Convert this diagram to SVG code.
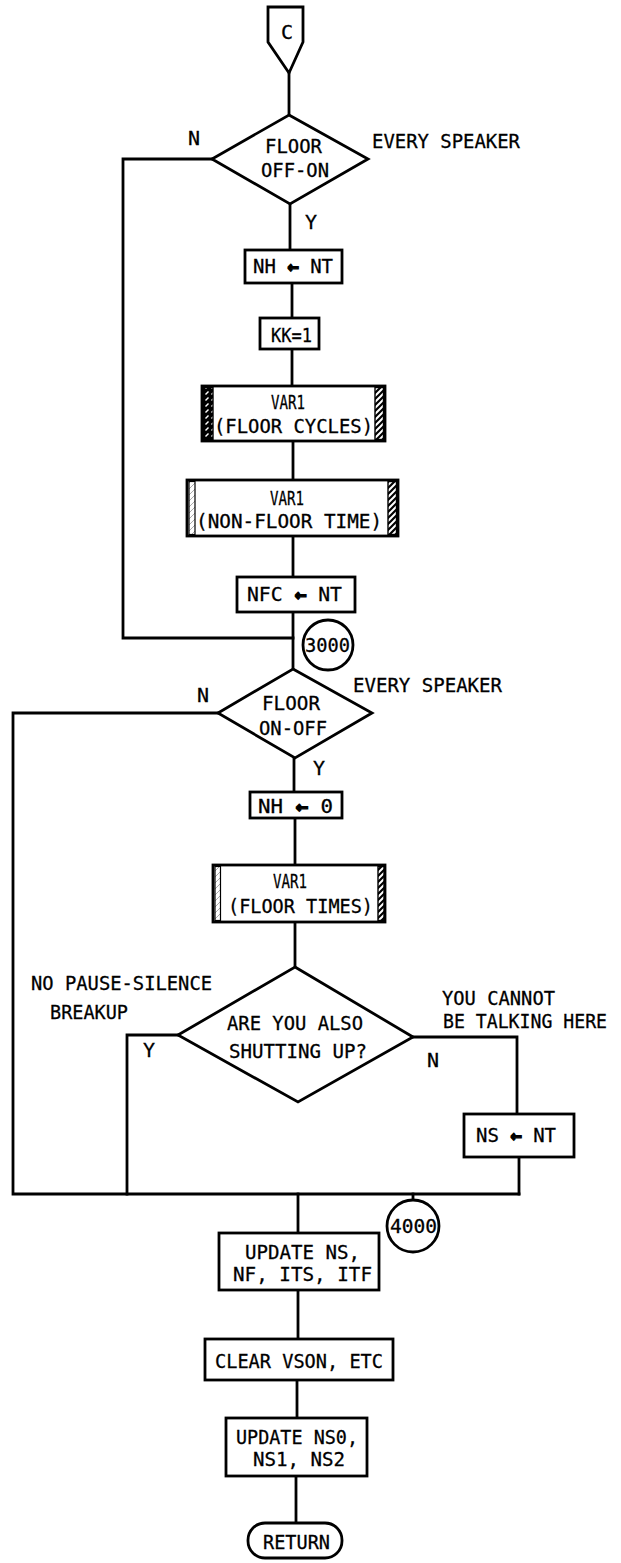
<svg xmlns="http://www.w3.org/2000/svg" width="621" height="1563" viewBox="0 0 621 1563">
  <style>
    .ln { fill: none; stroke: #000; stroke-width: 2.8; stroke-linejoin: miter; stroke-linecap: square; }
    .bx { fill: #fff; stroke: #000; stroke-width: 2.8; }
    .t { font-family: "DejaVu Sans Mono", "Liberation Mono", monospace; font-size: 20px; fill: #000; stroke: #000; stroke-width: 0.3; }
    .ar { font-weight: bold; stroke-width: 1.3; }
  </style>
  <defs>
    <pattern id="hatch" patternUnits="userSpaceOnUse" width="6" height="6">
      <rect width="6" height="6" fill="#fff"/>
      <path d="M-1,1 L1,-1 M0,6 L6,0 M5,7 L7,5" stroke="#000" stroke-width="2.2"/>
    </pattern>
    <pattern id="darkhatch" patternUnits="userSpaceOnUse" width="6" height="6">
      <rect width="6" height="6" fill="#000"/>
      <path d="M1.5,4.5 L4.5,1.5" stroke="#fff" stroke-width="1.4"/>
    </pattern>
    <pattern id="lighthatch" patternUnits="userSpaceOnUse" width="6" height="6">
      <rect width="6" height="6" fill="#fff"/>
      <path d="M0,6 L6,0" stroke="#aaa" stroke-width="1"/>
    </pattern>
  </defs>

  <!-- flow lines -->
  <g id="connectors" class="ln">
    <path d="M289,73 V115"/>
    <path d="M290,204 V250"/>
    <path d="M292,283 V318"/>
    <path d="M292,349 V386"/>
    <path d="M293,441 V480"/>
    <path d="M293,536 V577"/>
    <path d="M293,612 V669"/>
    <path d="M212,159 H123 V638 H293"/>
    <path d="M218,713 H13 V1194 H519"/>
    <path d="M294,758 V792"/>
    <path d="M295,818 V865"/>
    <path d="M295,922 V967"/>
    <path d="M178,1035 H127 V1194"/>
    <path d="M413,1037 H517 V1114"/>
    <path d="M519,1157 V1194"/>
    <path d="M298,1194 V1233"/>
    <path d="M413,1194 V1200"/>
    <path d="M298,1290 V1339"/>
    <path d="M297,1380 V1418"/>
    <path d="M296,1476 V1523"/>
  </g>

  <!-- off-page connector C -->
  <g id="entry-c">
    <path class="bx" d="M268,7 H303 V42 L289,73 L268,42 Z"/>
    <text class="t" x="287" y="39" text-anchor="middle">C</text>
  </g>

  <g id="floor-off-on">
    <path class="bx" d="M289,115 L368,159 L290,204 L212,159 Z"/>
    <text class="t" x="265" y="153" textLength="57" lengthAdjust="spacingAndGlyphs">FLOOR</text>
    <text class="t" x="261" y="177" textLength="68" lengthAdjust="spacingAndGlyphs">OFF-ON</text>
    <text class="t" x="188" y="145">N</text>
    <text class="t" x="305" y="229">Y</text>
    <text class="t" x="372" y="148" textLength="148" lengthAdjust="spacingAndGlyphs">EVERY SPEAKER</text>
  </g>

  <g id="nh-nt">
    <rect class="bx" x="245" y="250" width="97" height="33"/>
    <text class="t" x="253" y="273" textLength="80" lengthAdjust="spacingAndGlyphs">NH <tspan class="ar">←</tspan> NT</text>
  </g>

  <g id="kk-1">
    <rect class="bx" x="260" y="318" width="59" height="31"/>
    <text class="t" x="271" y="342" textLength="41" lengthAdjust="spacingAndGlyphs">KK=1</text>
  </g>

  <g id="var1-floor-cycles">
    <rect class="bx" x="202" y="386" width="183" height="55"/>
    <rect x="203.5" y="387.5" width="9.5" height="52" fill="url(#darkhatch)" stroke="#000" stroke-width="1.4"/>
    <rect x="375" y="387.5" width="8.5" height="52" fill="url(#hatch)" stroke="#000" stroke-width="1.4"/>
    <text class="t" x="271" y="409" textLength="34" lengthAdjust="spacingAndGlyphs">VAR1</text>
    <text class="t" x="214" y="433" textLength="159" lengthAdjust="spacingAndGlyphs">(FLOOR CYCLES)</text>
  </g>

  <g id="var1-non-floor-time">
    <rect class="bx" x="187" y="480" width="211" height="56"/>
    <rect x="189" y="481.5" width="6" height="53" fill="url(#lighthatch)" stroke="#000" stroke-width="1.2"/>
    <rect x="388" y="481.5" width="8.5" height="53" fill="url(#hatch)" stroke="#000" stroke-width="1.4"/>
    <text class="t" x="270" y="505" textLength="34" lengthAdjust="spacingAndGlyphs">VAR1</text>
    <text class="t" x="196" y="528" textLength="186" lengthAdjust="spacingAndGlyphs">(NON-FLOOR TIME)</text>
  </g>

  <g id="nfc-nt">
    <rect class="bx" x="237" y="577" width="118" height="35"/>
    <text class="t" x="247" y="601" textLength="95" lengthAdjust="spacingAndGlyphs">NFC <tspan class="ar">←</tspan> NT</text>
  </g>

  <g id="label-3000">
    <circle class="bx" cx="328" cy="645" r="25"/>
    <text class="t" x="305" y="652" textLength="45" lengthAdjust="spacingAndGlyphs">3000</text>
  </g>

  <g id="floor-on-off">
    <path class="bx" d="M293,669 L372,713 L295,758 L218,713 Z"/>
    <text class="t" x="262" y="710" textLength="58" lengthAdjust="spacingAndGlyphs">FLOOR</text>
    <text class="t" x="259" y="735" textLength="68" lengthAdjust="spacingAndGlyphs">ON-OFF</text>
    <text class="t" x="197" y="702">N</text>
    <text class="t" x="313" y="775">Y</text>
    <text class="t" x="353" y="692" textLength="149" lengthAdjust="spacingAndGlyphs">EVERY SPEAKER</text>
  </g>

  <g id="nh-0">
    <rect class="bx" x="250" y="792" width="92" height="26"/>
    <text class="t" x="258" y="813" textLength="75" lengthAdjust="spacingAndGlyphs">NH <tspan class="ar">←</tspan> 0</text>
  </g>

  <g id="var1-floor-times">
    <rect class="bx" x="213" y="865" width="172" height="57"/>
    <rect x="215" y="866.5" width="5.5" height="54" fill="url(#lighthatch)" stroke="#000" stroke-width="1.2"/>
    <rect x="378" y="866.5" width="6" height="54" fill="url(#hatch)" stroke="#000" stroke-width="1.4"/>
    <text class="t" x="273" y="888" textLength="34" lengthAdjust="spacingAndGlyphs">VAR1</text>
    <text class="t" x="228" y="913" textLength="145" lengthAdjust="spacingAndGlyphs">(FLOOR TIMES)</text>
  </g>

  <g id="shutting-up">
    <path class="bx" d="M295,967 L413,1037 L298,1102 L178,1035 Z"/>
    <text class="t" x="227" y="1030" textLength="136" lengthAdjust="spacingAndGlyphs">ARE YOU ALSO</text>
    <text class="t" x="229" y="1058" textLength="138" lengthAdjust="spacingAndGlyphs">SHUTTING UP?</text>
    <text class="t" x="143" y="1057">Y</text>
    <text class="t" x="427" y="1067">N</text>
    <text class="t" x="31" y="990" textLength="181" lengthAdjust="spacingAndGlyphs">NO PAUSE-SILENCE</text>
    <text class="t" x="50" y="1019" textLength="78" lengthAdjust="spacingAndGlyphs">BREAKUP</text>
    <text class="t" x="442" y="1005" textLength="113" lengthAdjust="spacingAndGlyphs">YOU CANNOT</text>
    <text class="t" x="443" y="1028" textLength="164" lengthAdjust="spacingAndGlyphs">BE TALKING HERE</text>
  </g>

  <g id="ns-nt">
    <rect class="bx" x="464" y="1114" width="110" height="43"/>
    <text class="t" x="476" y="1142" textLength="80" lengthAdjust="spacingAndGlyphs">NS <tspan class="ar">←</tspan> NT</text>
  </g>

  <g id="label-4000">
    <circle class="bx" cx="413" cy="1226" r="26"/>
    <text class="t" x="390" y="1233" textLength="47" lengthAdjust="spacingAndGlyphs">4000</text>
  </g>

  <g id="update-ns">
    <rect class="bx" x="219" y="1233" width="160" height="57"/>
    <text class="t" x="245" y="1259" textLength="115" lengthAdjust="spacingAndGlyphs">UPDATE NS,</text>
    <text class="t" x="233" y="1281" textLength="139" lengthAdjust="spacingAndGlyphs">NF, ITS, ITF</text>
  </g>

  <g id="clear-vson">
    <rect class="bx" x="205" y="1339" width="188" height="41"/>
    <text class="t" x="215" y="1368" textLength="168" lengthAdjust="spacingAndGlyphs">CLEAR VSON, ETC</text>
  </g>

  <g id="update-ns012">
    <rect class="bx" x="226" y="1418" width="141" height="58"/>
    <text class="t" x="236" y="1444" textLength="122" lengthAdjust="spacingAndGlyphs">UPDATE NS0,</text>
    <text class="t" x="253" y="1466" textLength="92" lengthAdjust="spacingAndGlyphs">NS1, NS2</text>
  </g>

  <g id="return">
    <rect class="bx" x="248" y="1523" width="94" height="35" rx="17" ry="17"/>
    <text class="t" x="263" y="1549" textLength="67" lengthAdjust="spacingAndGlyphs">RETURN</text>
  </g>
</svg>
